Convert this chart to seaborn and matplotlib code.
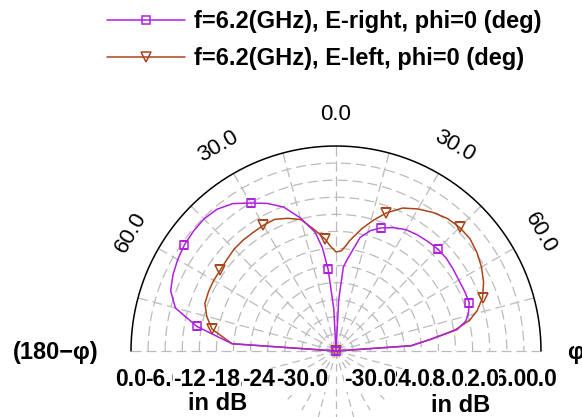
import numpy as np
import matplotlib
matplotlib.use("Agg")
import matplotlib.pyplot as plt
import matplotlib.transforms as mtransforms
from matplotlib.lines import Line2D
import seaborn as sns

# Far-field cuts at 6.2 GHz, phi = 0 deg (angle in degrees, gain in dB)
theta_deg = [-90, -86, -80, -75, -70, -65, -60, -55, -50, -45, -40, -35, -30,
             -25, -20, -15, -10, -7.5, -5.5, -3, 0, 3, 5, 7, 12, 16, 20, 25,
             30, 35, 40, 45, 50, 55, 60, 65, 70, 74, 77, 80, 83, 86, 90]
e_right_db = [-36, -17.7, -11.2, -6.8, -5.1, -4.4, -3.9, -3.5, -3.3, -3.2,
              -3.5, -4.4, -6.0, -7.4, -9.1, -11.8, -14.8, -17.7, -21.6, -28.6,
              -36, -27.0, -21.2, -19.8, -15.6, -14.0, -13.0, -12.1, -11.4,
              -11.1, -10.9, -10.7, -10.7, -10.9, -11.1, -11.1, -11.1, -11.8,
              -12.6, -14.4, -19.3, -22.8, -36]
e_left_db = [-36, -17.7, -13.9, -12.5, -11.5, -11.3, -11.2, -11.2, -11.0,
             -10.7, -10.6, -10.6, -10.5, -10.5, -11.2, -12.1, -14.4, -15.5,
             -16.3, -17.6, -18.6, -18.4, -17.6, -16.5, -14.0, -12.1, -10.2,
             -8.3, -7.2, -6.3, -5.6, -5.3, -5.3, -5.8, -6.5, -7.4, -8.6,
             -10.2, -11.9, -14.8, -19.3, -22.8, -36]
marker_idx = [2, 7, 12, 18, 26, 31, 36, 42]
series_labels = ["f=6.2(GHz), E-right, phi=0 (deg)",
                 "f=6.2(GHz), E-left, phi=0 (deg)"]
angle_ticks = [-60, -30, 0, 30, 60]
angle_tick_labels = ["60.0", "30.0", "0.0", "30.0", "60.0"]
db_ticks = [0, -6, -12, -18, -24, -30]
db_tick_labels = ["0.0", "-6.0", "-12.0", "-18.0", "-24.0", "-30.0"]

R_MIN, R_MAX = -36, 0
PURPLE = "#B020E0"
BROWN = "#A8461A"
GRID = "#BBBBBB"

sns.set_theme(style="white")
plt.rcParams["font.family"] = ["Liberation Sans", "DejaVu Sans"]
plt.rcParams["text.color"] = "black"

W, H = 582, 417
fig = plt.figure(figsize=(W / 100, H / 100), dpi=100)
cx, cy, rad = 336, 351, 205
ax = fig.add_axes([(cx - rad) / W, (H - cy - rad) / H, 2 * rad / W, 2 * rad / H],
                  projection="polar")
ax.set_theta_zero_location("N")
ax.set_theta_direction(-1)
ax.set_rlim(R_MIN, R_MAX)
ax.grid(False)
ax.set_xticks([])
ax.set_yticks([])
ax.spines["polar"].set_visible(False)
ax.patch.set_visible(False)

# dashed grid: rings every 3 dB and spokes every 15 deg on the upper half
arc = np.deg2rad(np.linspace(-90, 90, 361))
for r in range(-33, 0, 3):
    ax.plot(arc, np.full_like(arc, r), color=GRID, lw=0.9,
            dashes=(8, 4), zorder=1)
for a in range(-90, 91, 15):
    ax.plot([np.deg2rad(a)] * 2, [R_MIN, R_MAX], color=GRID, lw=0.9,
            dashes=(8, 4), zorder=1)
for a in range(105, 256, 15):
    ax.plot([np.deg2rad(a)] * 2, [R_MIN, -24], color=GRID, lw=0.9,
            dashes=(6, 4), zorder=1, clip_on=False)
ax.plot(arc, np.zeros_like(arc), color="black", lw=1.1, zorder=2, clip_on=False)

theta_rad = np.deg2rad(theta_deg)
sns.lineplot(x=theta_rad, y=e_right_db, ax=ax, sort=False, color=PURPLE,
             lw=1.1, marker="s", markevery=marker_idx, ms=6, mfc="none",
             mec=PURPLE, mew=1.1, zorder=4, label=series_labels[0])
sns.lineplot(x=theta_rad, y=e_left_db, ax=ax, sort=False, color=BROWN,
             lw=1.1, marker="v", markevery=marker_idx, ms=7, mfc="none",
             mec=BROWN, mew=1.1, zorder=3, label=series_labels[1])
ax.set_xlabel("")
ax.set_ylabel("")
if ax.get_legend() is not None:
    ax.get_legend().remove()
ax.set_rlim(R_MIN, R_MAX)

# angle labels around the rim
for a, s in zip(angle_ticks, angle_tick_labels):
    ax.text(np.deg2rad(a), 5.5, s, ha="center", va="center", fontsize=16,
            color="black", rotation=-a, rotation_mode="anchor", clip_on=False)

# dB scale labels below both ends of the baseline
below = mtransforms.offset_copy(ax.transData, fig=fig, y=-29, units="dots")
for side in (-90, 90):
    for r, s in zip(db_ticks, db_tick_labels):
        ax.text(np.deg2rad(side), r, s, transform=below, ha="center",
                va="center", fontsize=16.5, fontweight="bold", color="black",
                clip_on=False, zorder=6,
                bbox=dict(facecolor="white", edgecolor="none", pad=0))

bold = dict(fontsize=17, fontweight="bold", color="black",
            ha="center", va="center")
fig.text(218 / W, 1 - 403 / H, "in dB", **bold)
fig.text(461 / W, 1 - 405 / H, "in dB", **bold)
fig.text(56 / W, 1 - 353 / H, "(180\u2212\u03c6)", **bold)
fig.text(575 / W, 1 - 353 / H, "\u03c6", **bold)

handles = [Line2D([], [], color=PURPLE, lw=1.1, marker="s", ms=6, mfc="none",
                  mec=PURPLE, mew=1.1),
           Line2D([], [], color=BROWN, lw=1.1, marker="v", ms=7, mfc="none",
                  mec=BROWN, mew=1.1)]
leg = fig.legend(handles, series_labels, loc="upper left",
                 bbox_to_anchor=(107 / W, 1 - 10 / H), frameon=False,
                 prop=dict(size=17, weight="bold"), handlelength=3.3,
                 handletextpad=0.4, labelspacing=0.6, borderpad=0,
                 borderaxespad=0)
for t in leg.get_texts():
    t.set_color("black")

fig.savefig("out.png", dpi=100)
